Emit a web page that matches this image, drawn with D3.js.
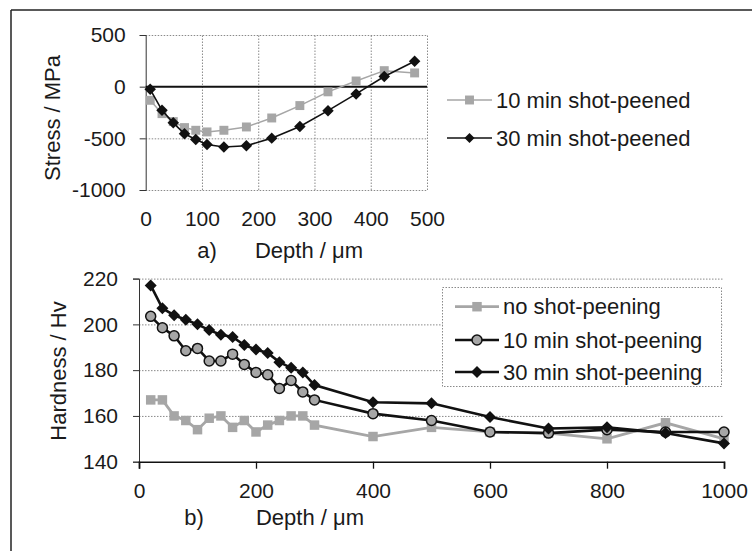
<!DOCTYPE html>
<html>
<head>
<meta charset="utf-8">
<script src="https://cdn.jsdelivr.net/npm/d3@7"></script>
<style>
  body { margin: 0; background: #fff; }
  svg text { font-family: "Liberation Sans", Arial, sans-serif; fill: #1a1a1a; }
</style>
</head>
<body>
<svg id="chart" width="752" height="551"></svg>
<script>
// a) residual stress vs depth
const stressDepth = [8, 29, 49, 69, 89, 109, 139, 179, 224, 274, 324, 374, 424, 478];
const stress10 = [-132, -261, -338, -396, -422, -438, -422, -390, -303, -183, -50, 55, 155, 133];
const stress30 = [-26, -229, -350, -456, -512, -559, -584, -572, -498, -385, -232, -70, 98, 246];
const stressTicksY = [500, 0, -500, -1000];
const stressTicksX = [0, 100, 200, 300, 400, 500];

// b) hardness vs depth
const hardDepth = [20, 40, 60, 80, 100, 120, 140, 160, 180, 200, 220, 240, 260, 280, 300, 400, 500, 600, 700, 800, 900, 1000];
const hardNone = [167, 167, 160, 158, 154, 159, 160, 155, 158, 153, 156, 158, 160, 160, 156, 151, 155, 153, 152.5, 150, 157, 150];
const hard10 = [203.5, 198.5, 195, 188.5, 189.5, 184, 184, 187, 182.5, 179, 178, 172, 175.5, 170.5, 167, 161, 158, 153, 152.5, 154, 153, 153];
const hard30 = [217, 207, 204, 202, 200, 197.5, 195.5, 194.5, 191, 189, 187.5, 183.5, 181, 179, 173.5, 166, 165.5, 159.5, 154.5, 155, 152.5, 148];
const hardTicksY = [140, 160, 180, 200, 220];
const hardTicksX = [0, 200, 400, 600, 800, 1000];

const grey = "#a6a6a6";
const plain = d => String(d); // "-1000", not "−1,000"
const svg = d3.select("#chart");

// scanned page frame (left and top edges only)
svg.append("line").attr("x1", 11).attr("y1", 10).attr("x2", 752).attr("y2", 10)
  .attr("stroke", "#222").attr("stroke-width", 1.5);
svg.append("line").attr("x1", 11).attr("y1", 10).attr("x2", 11).attr("y2", 551)
  .attr("stroke", "#222").attr("stroke-width", 1.5);

const sq = d3.symbol().type(d3.symbolSquare);
const diamondPath = s => d3.symbol().type(d3.symbolSquare).size(s)();

function drawSeries(g, x, y, xs, ys, opt) {
  const pts = xs.map((d, i) => [d, ys[i]]);
  g.append("path")
    .attr("d", d3.line().x(d => x(d[0])).y(d => y(d[1]))(pts))
    .attr("fill", "none").attr("stroke", opt.line).attr("stroke-width", opt.lw);
  const m = g.selectAll(null).data(pts).join("g")
    .attr("transform", d => `translate(${x(d[0])},${y(d[1])})`);
  addMarker(m, opt);
}

function addMarker(sel, opt) {
  if (opt.marker === "square") {
    sel.append("path").attr("d", sq.size(opt.size)()).attr("fill", grey);
  } else if (opt.marker === "diamond") {
    sel.append("path").attr("d", diamondPath(opt.size)).attr("transform", "rotate(45)")
      .attr("fill", "#111");
  } else {
    sel.append("circle").attr("r", opt.size).attr("fill", grey)
      .attr("stroke", "#111").attr("stroke-width", 1.5);
  }
}

function legendRow(g, x0, x1, y, label, opt) {
  g.append("line").attr("x1", x0).attr("x2", x1).attr("y1", y).attr("y2", y)
    .attr("stroke", opt.line).attr("stroke-width", opt.lw);
  addMarker(g.append("g").attr("transform", `translate(${(x0 + x1) / 2},${y})`), opt);
  g.append("text").attr("x", x1 + 4).attr("y", y).attr("dy", "0.35em")
    .attr("font-size", 22).text(label);
}

function styleText(g) {
  g.selectAll("text").attr("font-size", 21).attr("fill", "#1a1a1a")
    .attr("font-family", "Liberation Sans, Arial, sans-serif");
}

// ---------- a) stress ----------
const xA = d3.scaleLinear().domain([0, 500]).range([145.7, 427]);
const yA = d3.scaleLinear().domain([-1000, 500]).range([190, 35]);
const gA = svg.append("g");

// plot area border + grid (dotted)
gA.append("g").attr("transform", `translate(0,${yA(-1000)})`)
  .call(d3.axisBottom(xA).tickValues(stressTicksX.slice(1)).tickSize(-(yA(-1000) - yA(500))).tickFormat(""))
  .call(g => g.select(".domain").remove())
  .selectAll("line").attr("stroke", "#8a8a8a").attr("stroke-dasharray", "1.5,1.5");
gA.append("g").attr("transform", `translate(${xA(0)},0)`)
  .call(d3.axisLeft(yA).tickValues([500, -500, -1000]).tickSize(-(xA(500) - xA(0))).tickFormat(""))
  .call(g => g.select(".domain").remove())
  .selectAll("line").attr("stroke", "#8a8a8a").attr("stroke-dasharray", "1.5,1.5");

// y axis with labels
gA.append("g").attr("transform", `translate(${xA(0)},0)`)
  .call(d3.axisLeft(yA).tickValues(stressTicksY).tickFormat(plain).tickSize(6).tickPadding(14))
  .call(g => g.select(".domain").attr("stroke", "#333"))
  .call(g => g.selectAll("line").attr("stroke", "#333"))
  .call(styleText);

// zero line
gA.append("line").attr("x1", xA(0)).attr("x2", xA(500)).attr("y1", yA(0)).attr("y2", yA(0))
  .attr("stroke", "#111").attr("stroke-width", 2);

// x tick labels under plot
gA.append("g").attr("transform", `translate(0,${yA(-1000)})`)
  .call(d3.axisBottom(xA).tickValues(stressTicksX).tickFormat(plain).tickSize(0).tickPadding(21))
  .call(g => g.select(".domain").remove())
  .call(styleText);

drawSeries(gA, xA, yA, stressDepth, stress10, { line: grey, lw: 1.5, marker: "square", size: 80 });
drawSeries(gA, xA, yA, stressDepth, stress30, { line: "#111", lw: 1.6, marker: "diamond", size: 66 });

gA.append("text").attr("transform", "translate(52,118) rotate(-90)").attr("text-anchor", "middle")
  .attr("dy", "0.35em").attr("font-size", 22).text("Stress / MPa");
gA.append("text").attr("x", 207).attr("y", 250).attr("dy", "0.35em").attr("text-anchor", "middle")
  .attr("font-size", 22).text("a)");
gA.append("text").attr("x", 309).attr("y", 250).attr("dy", "0.35em").attr("text-anchor", "middle")
  .attr("font-size", 22).text("Depth / μm");

const legA = svg.append("g");
legendRow(legA, 447, 492, 100, "10 min shot-peened", { line: grey, lw: 1.5, marker: "square", size: 80 });
legendRow(legA, 447, 492, 138, "30 min shot-peened", { line: "#111", lw: 1.6, marker: "diamond", size: 50 });

// ---------- b) hardness ----------
const xB = d3.scaleLinear().domain([0, 1000]).range([139, 724]);
const yB = d3.scaleLinear().domain([140, 220]).range([461.7, 278.6]);
const gB = svg.append("g");

gB.append("g").attr("transform", `translate(${xB(0)},0)`)
  .call(d3.axisLeft(yB).tickValues(hardTicksY.slice(1)).tickSize(-(xB(1000) - xB(0))).tickFormat(""))
  .call(g => g.select(".domain").remove())
  .selectAll("line").attr("stroke", "#8a8a8a").attr("stroke-dasharray", "1.5,1.5");

gB.append("g").attr("transform", `translate(${xB(0)},0)`)
  .call(d3.axisLeft(yB).tickValues(hardTicksY).tickFormat(plain).tickSize(6).tickPadding(15))
  .call(g => g.select(".domain").attr("stroke", "#333"))
  .call(g => g.selectAll("line").attr("stroke", "#333"))
  .call(styleText);

gB.append("g").attr("transform", `translate(0,${yB(140)})`)
  .call(d3.axisBottom(xB).tickValues(hardTicksX).tickFormat(plain).tickSize(7).tickPadding(14))
  .call(g => g.select(".domain").attr("stroke", "#111").attr("stroke-width", 1.6))
  .call(g => g.selectAll("line").attr("stroke", "#111").attr("stroke-width", 1.3))
  .call(styleText);

drawSeries(gB, xB, yB, hardDepth, hardNone, { line: grey, lw: 2.8, marker: "square", size: 90 });
drawSeries(gB, xB, yB, hardDepth, hard10, { line: "#111", lw: 2.6, marker: "circle", size: 5 });
drawSeries(gB, xB, yB, hardDepth, hard30, { line: "#111", lw: 2.6, marker: "diamond", size: 72 });

gB.append("text").attr("transform", "translate(58,371) rotate(-90)").attr("text-anchor", "middle")
  .attr("dy", "0.35em").attr("font-size", 22).text("Hardness / Hv");
gB.append("text").attr("x", 194).attr("y", 517).attr("dy", "0.35em").attr("text-anchor", "middle")
  .attr("font-size", 22).text("b)");
gB.append("text").attr("x", 310).attr("y", 517).attr("dy", "0.35em").attr("text-anchor", "middle")
  .attr("font-size", 22).text("Depth / μm");

const legB = svg.append("g");
legB.append("rect").attr("x", 442.5).attr("y", 287.5).attr("width", 279).attr("height", 99)
  .attr("fill", "#fff").attr("stroke", "#8a8a8a").attr("stroke-dasharray", "1.5,1.5");
legendRow(legB, 455, 499, 306.7, "no shot-peening", { line: grey, lw: 2.8, marker: "square", size: 90 });
legendRow(legB, 455, 499, 340, "10 min shot-peening", { line: "#111", lw: 2.6, marker: "circle", size: 5 });
legendRow(legB, 455, 499, 372, "30 min shot-peening", { line: "#111", lw: 2.6, marker: "diamond", size: 72 });
</script>
</body>
</html>
